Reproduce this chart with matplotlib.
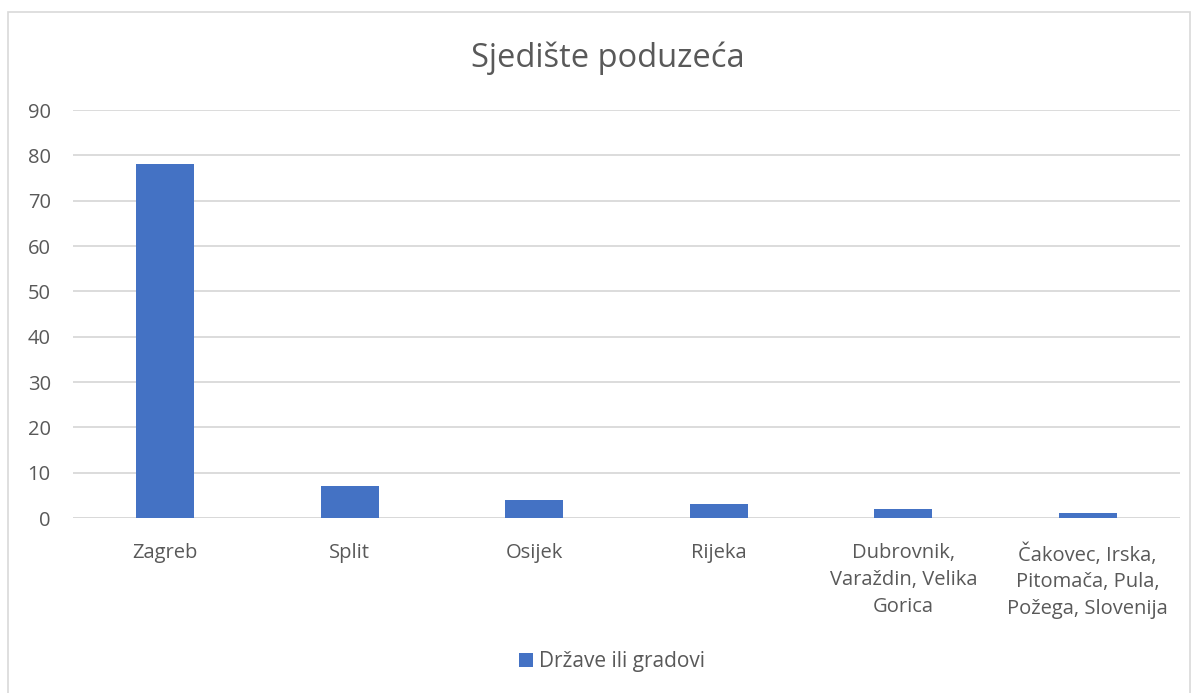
import matplotlib.pyplot as plt
from matplotlib.patches import Rectangle

categories = ["Zagreb", "Split", "Osijek", "Rijeka",
              "Dubrovnik,\nVaraždin, Velika\nGorica",
              "Čakovec, Irska,\nPitomača, Pula,\nPožega, Slovenija"]
values = [78, 7, 4, 3, 2, 1]
series_name = "Države ili gradovi"
title = "Sjedište poduzeća"

text_col = "#595959"
bar_col = "#4472C4"
grid_col = "#D9D9D9"

plt.rcParams['font.family'] = ['Open Sans', 'DejaVu Sans']

fig = plt.figure(figsize=(11.97, 6.93), dpi=100)
fig.patches.append(Rectangle((8 / 1197, -0.01), (1190 - 8) / 1197, 1 - 12 / 693 + 0.01,
                             transform=fig.transFigure, fill=False,
                             edgecolor=grid_col, linewidth=1.2))

ax = fig.add_axes([73 / 1197, 1 - 518 / 693, (1180 - 73) / 1197, (518 - 110) / 693])
x = range(len(categories))
ax.bar(x, values, width=0.315, color=bar_col, label=series_name, zorder=3)

ax.set_xlim(-0.5, len(categories) - 0.5)
ax.set_ylim(0, 90)
ax.set_yticks(range(0, 91, 10))
ax.set_xticks(list(x))
ax.set_xticklabels(categories, fontsize=14.5, color=text_col, linespacing=1.45, va='top')
ax.tick_params(axis='y', labelsize=14.5, labelcolor=text_col, length=0, pad=16)
ax.tick_params(axis='x', length=0, pad=18)
ax.grid(axis='y', color=grid_col, linewidth=1.3, zorder=0)
for s in ax.spines.values():
    s.set_visible(False)
ax.axhline(0, color=grid_col, linewidth=1.3, zorder=2)

fig.text(608 / 1197, 1 - 58 / 693, title, ha='center', va='center',
         fontsize=23.5, color=text_col)

fig.legend(loc='center', bbox_to_anchor=(612 / 1197, 1 - 662 / 693), frameon=False,
           fontsize=15, labelcolor=text_col, handlelength=0.65, handleheight=0.65,
           handletextpad=0.3)

fig.savefig("out.png", dpi=100, facecolor='white')
